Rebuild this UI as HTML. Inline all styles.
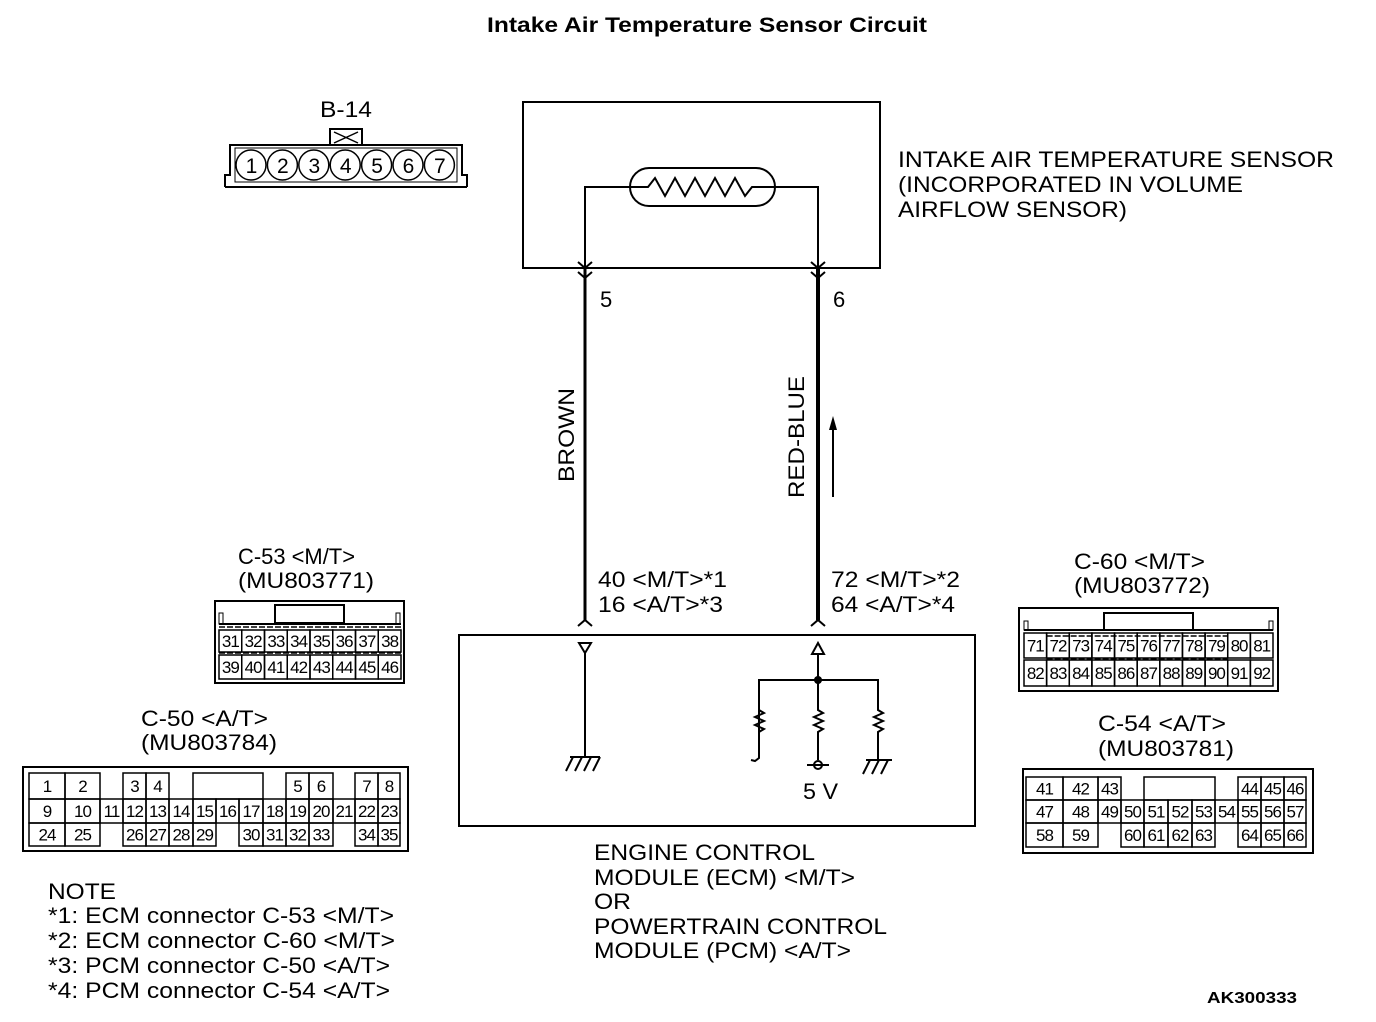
<!DOCTYPE html>
<html><head><meta charset="utf-8"><style>
html,body{margin:0;padding:0;background:#fff;}
svg{display:block;font-family:"Liberation Sans",Arial,sans-serif;}
</style></head><body>
<svg id="s" width="1376" height="1022" viewBox="0 0 1376 1022" xmlns="http://www.w3.org/2000/svg">
<g fill="none" stroke="#000" stroke-width="2">
<rect x="523" y="102" width="357" height="166"/>
<rect x="630" y="168" width="145" height="38" rx="19"/>
<polyline points="585,268 585,187 648,187 655,178 665,196 675,178 685,196 695,178 705,196 715,178 725,196 735,178 745,196 752,187 818,187 818,268"/>
<polyline points="578,262 585,268 592,262"/><polyline points="578,272 585,278 592,272"/>
<polyline points="811,262 818,268 825,262"/><polyline points="811,272 818,278 825,272"/>
<line x1="585" y1="268" x2="585" y2="620" stroke-width="3"/>
<line x1="818" y1="268" x2="818" y2="620" stroke-width="4"/>
<polyline points="578,626 585,620 592,626"/><polyline points="811,626 818,620 825,626"/>
<line x1="833" y1="497" x2="833" y2="428"/>
<rect x="459" y="635" width="516" height="191"/>
<polygon points="579,643 591,643 585,653"/>
<line x1="585" y1="653" x2="585" y2="757"/>
<line x1="570" y1="757" x2="600" y2="757"/>
<line x1="573" y1="757" x2="566" y2="771"/><line x1="582" y1="757" x2="575" y2="771"/><line x1="591" y1="757" x2="584" y2="771"/><line x1="600" y1="757" x2="593" y2="771"/>
<polygon points="812,654 824,654 818,643"/>
<line x1="818" y1="654" x2="818" y2="708"/>
<polyline points="759,735 759,680 878,680 878,708"/>
<polyline points="759,708 759,710 764,713 755,717 764,721 755,725 764,729 759,732 759,758 755,761 751,760"/>
<polyline points="818,708 818,710 823,713 814,717 823,721 814,725 823,729 818,732 818,760"/>
<polyline points="878,708 878,710 883,713 874,717 883,721 874,725 883,729 878,732 878,760"/>
<circle cx="818" cy="765" r="4"/>
<line x1="807" y1="765" x2="829" y2="765"/>
<line x1="866" y1="760" x2="892" y2="760"/>
<line x1="870" y1="760" x2="863" y2="774"/><line x1="879" y1="760" x2="872" y2="774"/><line x1="888" y1="760" x2="881" y2="774"/>
<polyline points="225,187 225,175 230,175 230,145 462,145 462,175 467,175 467,187"/>
<line x1="225" y1="187" x2="467" y2="187"/>
<rect x="330" y="129" width="32" height="16"/>
<line x1="334" y1="132" x2="358" y2="143" stroke-width="1.5"/><line x1="358" y1="132" x2="334" y2="143" stroke-width="1.5"/>
<rect x="235" y="148" width="222" height="34" stroke-width="1"/>
</g>
<polygon points="829,430 833,416 837,430" fill="#000"/>
<circle cx="818" cy="680" r="4" fill="#000"/>
<g id="cells" font-size="17" letter-spacing="-1" text-anchor="middle" fill="#000"></g>
<g font-size="22" fill="#000" lengthAdjust="spacingAndGlyphs">
<text x="487" y="32" font-weight="bold" font-size="21" textLength="440" lengthAdjust="spacingAndGlyphs">Intake Air Temperature Sensor Circuit</text>
<text x="320" y="117" textLength="52" lengthAdjust="spacingAndGlyphs">B-14</text>
<text x="898" y="167" textLength="436" lengthAdjust="spacingAndGlyphs">INTAKE AIR TEMPERATURE SENSOR</text>
<text x="898" y="192" textLength="345" lengthAdjust="spacingAndGlyphs">(INCORPORATED IN VOLUME</text>
<text x="898" y="217" textLength="229" lengthAdjust="spacingAndGlyphs">AIRFLOW SENSOR)</text>
<text x="600" y="307">5</text><text x="833" y="307">6</text>
<text transform="translate(574,482) rotate(-90)" textLength="94" lengthAdjust="spacingAndGlyphs">BROWN</text>
<text transform="translate(804,498) rotate(-90)" textLength="122" lengthAdjust="spacingAndGlyphs">RED-BLUE</text>
<text x="598" y="587" textLength="129" lengthAdjust="spacingAndGlyphs">40 &lt;M/T&gt;*1</text><text x="598" y="612" textLength="125" lengthAdjust="spacingAndGlyphs">16 &lt;A/T&gt;*3</text>
<text x="831" y="587" textLength="129" lengthAdjust="spacingAndGlyphs">72 &lt;M/T&gt;*2</text><text x="831" y="612" textLength="124" lengthAdjust="spacingAndGlyphs">64 &lt;A/T&gt;*4</text>
<text x="803" y="799" textLength="35" lengthAdjust="spacingAndGlyphs">5 V</text>
<text x="238" y="564" textLength="117" lengthAdjust="spacingAndGlyphs">C-53 &lt;M/T&gt;</text><text x="238" y="588" textLength="136" lengthAdjust="spacingAndGlyphs">(MU803771)</text>
<text x="141" y="726" textLength="127" lengthAdjust="spacingAndGlyphs">C-50 &lt;A/T&gt;</text><text x="141" y="750" textLength="136" lengthAdjust="spacingAndGlyphs">(MU803784)</text>
<text x="1074" y="569" textLength="131" lengthAdjust="spacingAndGlyphs">C-60 &lt;M/T&gt;</text><text x="1074" y="593" textLength="136" lengthAdjust="spacingAndGlyphs">(MU803772)</text>
<text x="1098" y="731" textLength="128" lengthAdjust="spacingAndGlyphs">C-54 &lt;A/T&gt;</text><text x="1098" y="756" textLength="136" lengthAdjust="spacingAndGlyphs">(MU803781)</text>
<text x="594" y="860" textLength="221" lengthAdjust="spacingAndGlyphs">ENGINE CONTROL</text>
<text x="594" y="885" textLength="261" lengthAdjust="spacingAndGlyphs">MODULE (ECM) &lt;M/T&gt;</text>
<text x="594" y="909" textLength="37" lengthAdjust="spacingAndGlyphs">OR</text>
<text x="594" y="934" textLength="293" lengthAdjust="spacingAndGlyphs">POWERTRAIN CONTROL</text>
<text x="594" y="958" textLength="257" lengthAdjust="spacingAndGlyphs">MODULE (PCM) &lt;A/T&gt;</text>
<text x="48" y="899" textLength="68" lengthAdjust="spacingAndGlyphs">NOTE</text>
<text x="48" y="923" textLength="346" lengthAdjust="spacingAndGlyphs">*1: ECM connector C-53 &lt;M/T&gt;</text>
<text x="48" y="948" textLength="347" lengthAdjust="spacingAndGlyphs">*2: ECM connector C-60 &lt;M/T&gt;</text>
<text x="48" y="973" textLength="342" lengthAdjust="spacingAndGlyphs">*3: PCM connector C-50 &lt;A/T&gt;</text>
<text x="48" y="998" textLength="342" lengthAdjust="spacingAndGlyphs">*4: PCM connector C-54 &lt;A/T&gt;</text>
<text x="1207" y="1003" font-weight="bold" font-size="16" textLength="90" lengthAdjust="spacingAndGlyphs">AK300333</text>
</g>
<g id="shapes" fill="none" stroke="#000" stroke-width="2"></g>
</svg>
<script>
var NS="http://www.w3.org/2000/svg",T=document.getElementById("cells"),S=document.getElementById("shapes");
function el(p,tag,a){var e=document.createElementNS(NS,tag);for(var k in a)e.setAttribute(k,a[k]);p.appendChild(e);return e;}
function cell(x1,x2,y1,y2,t,fs){el(S,"rect",{x:x1,y:y1,width:x2-x1,height:y2-y1,"stroke-width":1.5});if(t!==""){var e=el(T,"text",{x:(x1+x2)/2,y:(y1+y2)/2+6});if(fs)e.setAttribute("font-size",fs);e.textContent=t;}}
for(var i=0;i<7;i++){var cx=251+i*31.4;el(S,"circle",{cx:cx,cy:165,r:15,"stroke-width":1.5});var e=el(T,"text",{x:cx,y:173,"font-size":21});e.textContent=i+1;}
el(S,"rect",{x:215,y:601,width:189,height:82});el(S,"rect",{x:275,y:605,width:69,height:18});
el(S,"rect",{x:219,y:613,width:4,height:11,"stroke-width":1});el(S,"rect",{x:396,y:613,width:4,height:11,"stroke-width":1});
el(S,"line",{x1:219,y1:624,x2:401,y2:624});
for(var i=0;i<8;i++){var a=219+i*22.75,b=a+22.75;cell(a,b,630,652,31+i);cell(a,b,655,679,39+i);}
el(S,"line",{x1:219,y1:627,x2:401,y2:627,"stroke-dasharray":"6 2","stroke-width":1.5});
el(S,"line",{x1:219,y1:653,x2:401,y2:653,"stroke-dasharray":"6 2","stroke-width":1.5});
el(S,"rect",{x:1019,y:608,width:259,height:83});el(S,"rect",{x:1104,y:613,width:89,height:17});
el(S,"rect",{x:1024,y:621,width:4,height:9,"stroke-width":1});el(S,"rect",{x:1269,y:621,width:4,height:9,"stroke-width":1});
el(S,"line",{x1:1024,y1:630,x2:1273,y2:630});
var w=(1273-1024)/11;
for(var i=0;i<11;i++){var a=1024+i*w,b=a+w;cell(a,b,633,658,71+i);cell(a,b,660,686,82+i);}
el(S,"line",{x1:1024+w,y1:636,x2:1024+9*w,y2:636,"stroke-dasharray":"6 2","stroke-width":1.5});
el(S,"line",{x1:1024+w,y1:659,x2:1024+9*w,y2:659,"stroke-dasharray":"6 2","stroke-width":1.5});
el(S,"rect",{x:23,y:767,width:385,height:84});
var X=[29,65,100,123,146,169,193,216,239,263,286,309,333,355,378,400];
var r1={0:"1",1:"2",3:"3",4:"4",10:"5",11:"6",13:"7",14:"8"};
for(var k in r1){k=+k;cell(X[k],X[k+1],773,799,r1[k]);}
cell(193,263,773,799,"");
for(var i=0;i<15;i++)cell(X[i],X[i+1],799,823,9+i);
var r3={0:"24",1:"25",3:"26",4:"27",5:"28",6:"29",8:"30",9:"31",10:"32",11:"33",13:"34",14:"35"};
for(var k in r3){k=+k;cell(X[k],X[k+1],823,846,r3[k]);}
el(S,"rect",{x:1023,y:769,width:290,height:84});
var Y=[1026,1063,1098,1121,1144,1168,1192,1215,1238,1261,1284,1306];
var q1={0:"41",1:"42",2:"43",8:"44",9:"45",10:"46"};
for(var k in q1){k=+k;cell(Y[k],Y[k+1],777,800,q1[k]);}
cell(1144,1215,777,800,"");
for(var i=0;i<11;i++)cell(Y[i],Y[i+1],800,823,47+i);
var q3={0:"58",1:"59",3:"60",4:"61",5:"62",6:"63",8:"64",9:"65",10:"66"};
for(var k in q3){k=+k;cell(Y[k],Y[k+1],823,847,q3[k]);}
</script>
</body></html>
